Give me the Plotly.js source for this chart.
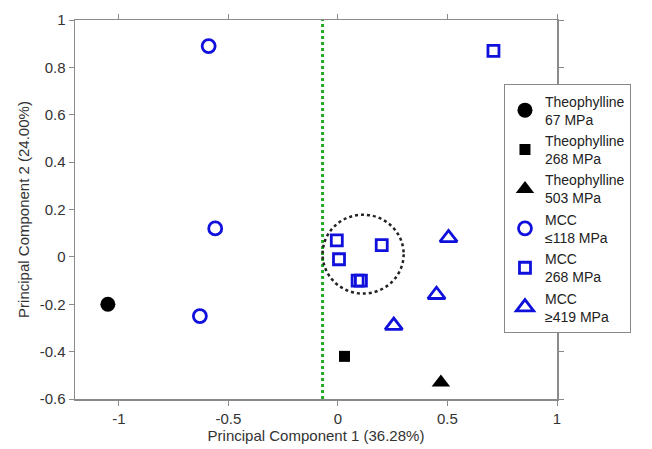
<!DOCTYPE html>
<html>
<head>
<meta charset="utf-8">
<script src="https://cdn.plot.ly/plotly-3.0.1.min.js"></script>
<style>html,body{margin:0;padding:0;background:#fff;}#chart{width:652px;height:449px;}</style>
</head>
<body>
<div id="chart"></div>
<script>
// Series data (PC1, PC2)
const seriesNames = ["Theophylline<br>67 MPa", "Theophylline<br>268 MPa", "Theophylline<br>503 MPa", "MCC<br>≤118 MPa", "MCC<br>268 MPa", "MCC<br>≥419 MPa"];
const theo67X = [-1.05];
const theo67Y = [-0.20];
const theo268X = [0.03];
const theo268Y = [-0.42];
const theo503X = [0.47];
const theo503Y = [-0.53];
const mcc118X = [-0.59, -0.56, -0.63];
const mcc118Y = [0.89, 0.12, -0.25];
const mcc268X = [0.71, -0.005, 0.005, 0.20, 0.09, 0.105];
const mcc268Y = [0.87, 0.07, -0.01, 0.05, -0.10, -0.10];
const mcc419X = [0.505, 0.45, 0.255];
const mcc419Y = [0.08, -0.16, -0.29];
const dividerX = -0.07;
const clusterCircle = {x0: -0.07, x1: 0.30, y0: -0.155, y1: 0.178};

const blue = "#1010dd";
const traces = [
  {x: theo67X, y: theo67Y, name: seriesNames[0], mode: "markers", type: "scatter",
   marker: {symbol: "circle", size: 15, color: "#000"}},
  {x: theo268X, y: theo268Y, name: seriesNames[1], mode: "markers", type: "scatter",
   marker: {symbol: "square", size: 11, color: "#000"}},
  {x: theo503X, y: theo503Y, name: seriesNames[2], mode: "markers", type: "scatter",
   marker: {symbol: "triangle-up", size: 16, color: "#000"}},
  {x: mcc118X, y: mcc118Y, name: seriesNames[3], mode: "markers", type: "scatter",
   marker: {symbol: "circle-open", size: 13, color: blue, line: {width: 2.8, color: blue}}},
  {x: mcc268X, y: mcc268Y, name: seriesNames[4], mode: "markers", type: "scatter",
   marker: {symbol: "square-open", size: 11, color: blue, line: {width: 2.8, color: blue}}},
  {x: mcc419X, y: mcc419Y, name: seriesNames[5], mode: "markers", type: "scatter",
   marker: {symbol: "triangle-up-open", size: 15, color: blue, line: {width: 2.8, color: blue}}}
];

const axisCommon = {
  showgrid: false, zeroline: false, showline: true, mirror: "ticks",
  linecolor: "#8a8a8a", linewidth: 1.5, ticks: "outside", ticklen: 5, tickcolor: "#8a8a8a",
  tickfont: {family: "Arial, Liberation Sans, sans-serif", size: 15, color: "#333"}
};

const layout = {
  width: 652, height: 449,
  margin: {l: 75, r: 95, t: 20, b: 50},
  paper_bgcolor: "#fff", plot_bgcolor: "#fff",
  font: {family: "Arial, Liberation Sans, sans-serif", color: "#333"},
  showlegend: true,
  legend: {
    x: 0.89, y: 0.83, xanchor: "left", yanchor: "top",
    bgcolor: "#fff", bordercolor: "#888", borderwidth: 1,
    font: {size: 14, color: "#222"}, itemwidth: 30
  },
  xaxis: Object.assign({}, axisCommon, {
    range: [-1.2, 1], tickvals: [-1, -0.5, 0, 0.5, 1], ticktext: ["-1", "-0.5", "0", "0.5", "1"],
    title: {text: "Principal Component 1 (36.28%)", font: {size: 15, color: "#333"}, standoff: 4}
  }),
  yaxis: Object.assign({}, axisCommon, {
    range: [-0.6, 1], tickvals: [-0.6, -0.4, -0.2, 0, 0.2, 0.4, 0.6, 0.8, 1],
    ticktext: ["-0.6", "-0.4", "-0.2", "0", "0.2", "0.4", "0.6", "0.8", "1"],
    title: {text: "Principal Component 2 (24.00%)", font: {size: 15, color: "#333"}, standoff: 6}
  }),
  shapes: [
    {type: "line", xref: "x", yref: "paper", x0: dividerX, x1: dividerX, y0: 0, y1: 1,
     line: {color: "#22aa22", width: 3, dash: "dot"}, layer: "below"},
    {type: "circle", xref: "x", yref: "y", x0: clusterCircle.x0, x1: clusterCircle.x1,
     y0: clusterCircle.y0, y1: clusterCircle.y1, line: {color: "#222", width: 2.5, dash: "dot"}, layer: "below"}
  ]
};

Plotly.newPlot("chart", traces, layout, {displayModeBar: false, staticPlot: true});
</script>
</body>
</html>
